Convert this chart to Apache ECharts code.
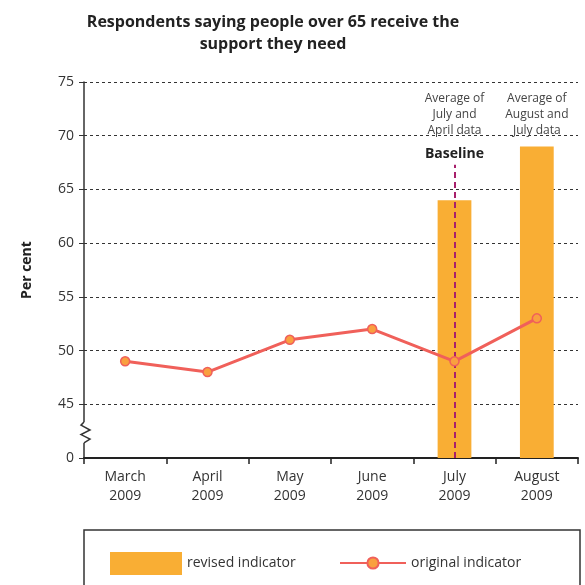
<!DOCTYPE html>
<html>
<head>
<meta charset="utf-8">
<script src="https://cdn.jsdelivr.net/npm/echarts@6/dist/echarts.min.js"></script>
<style>
  html, body { margin: 0; padding: 0; background: #fff; }
  #chart { width: 585px; height: 585px; }
</style>
</head>
<body>
<div id="chart"></div>
<script>
// Months surveyed
const categories = ['March\n2009', 'April\n2009', 'May\n2009', 'June\n2009', 'July\n2009', 'August\n2009'];
// Revised indicator (averaged figures), per cent
const revisedValues = [null, null, null, null, 64, 69];
// Original indicator, per cent
const originalValues = [49, 48, 51, 52, 49, 53];
// Axis runs 40..75 with the 40 position shown as 0 (broken axis)
const yMin = 40, yMax = 75, yStep = 5;
const annotations = [
  { cat: 4, text: 'Average of\nJuly and\nApril data' },
  { cat: 5, text: 'Average of\nAugust and\nJuly data' }
];

const FONT = '"Open Sans", "Noto Sans", sans-serif';
const chart = echarts.init(document.getElementById('chart'));

const option = {
  animation: false,
  textStyle: { fontFamily: FONT },
  title: {
    text: 'Respondents saying people over 65 receive the\nsupport they need',
    left: 268, top: 6, textAlign: 'center',
    textStyle: { fontSize: 16, fontWeight: 'bold', color: '#222', lineHeight: 22, fontFamily: FONT }
  },
  grid: { left: 84, right: 7, top: 82, bottom: 127 },
  legend: [
    {
      data: [{ name: 'revised indicator', icon: 'rect' }], left: 105, top: 547, itemWidth: 72, itemHeight: 23,
      textStyle: { fontSize: 14, color: '#333', fontFamily: FONT }, itemGap: 10
    },
    {
      data: ['original indicator'], left: 334, top: 551, itemWidth: 66, itemHeight: 14,
      textStyle: { fontSize: 14, color: '#333', fontFamily: FONT }
    }
  ],
  xAxis: {
    type: 'category', data: categories, boundaryGap: true,
    axisLine: { lineStyle: { color: '#222', width: 2 } },
    axisTick: { show: true, length: 6, lineStyle: { color: '#222', width: 1.5 } },
    axisLabel: { fontSize: 14, color: '#333', lineHeight: 19, margin: 10, fontFamily: FONT }
  },
  yAxis: {
    type: 'value', min: yMin, max: yMax, interval: yStep,
    name: 'Per cent', nameLocation: 'middle', nameGap: 50, nameRotate: 90,
    nameTextStyle: { fontSize: 14, fontWeight: 'bold', color: '#222', fontFamily: FONT },
    axisLine: { show: true, lineStyle: { color: '#333', width: 1.5 } },
    axisTick: { show: true, length: 5, lineStyle: { color: '#333' } },
    axisLabel: {
      fontSize: 14, color: '#333', margin: 10, fontFamily: FONT,
      formatter: v => (v === yMin ? '0' : String(v))
    },
    splitLine: {
      show: true,
      lineStyle: { color: '#333', type: [3, 3], width: 1 }
    }
  },
  series: [
    {
      name: 'revised indicator', type: 'bar', data: revisedValues,
      barWidth: '41%', itemStyle: { color: '#f9ae34' }, clip: true,
      markLine: {
        symbol: 'none', silent: true,
        label: {
          show: true, position: 'end', formatter: 'Baseline',
          fontSize: 14, fontWeight: 'bold', color: '#222', distance: 4, fontFamily: FONT
        },
        lineStyle: { color: '#a8206b', type: [6, 4], width: 2 },
        data: [[{ coord: [4, yMin] }, { coord: [4, 67.3] }]]
      }
    },
    {
      name: 'original indicator', type: 'line', data: originalValues,
      symbol: 'circle', symbolSize: 9, z: 5,
      lineStyle: { color: '#f0605a', width: 3 },
      itemStyle: { color: '#f9a03f', borderColor: '#f0605a', borderWidth: 1.5 }
    }
  ]
};
chart.setOption(option);

// Annotation texts, break mark and legend frame positioned via the axes
function drawExtras() {
  const els = [];
  annotations.forEach(a => {
    const p = chart.convertToPixel({ gridIndex: 0 }, [a.cat, 74.2]);
    els.push({
      type: 'text', x: p[0], y: p[1],
      style: {
        text: a.text, align: 'center', verticalAlign: 'top',
        fontSize: 12, lineHeight: 16, fill: '#444', fontFamily: FONT
      }
    });
  });
  const x0 = 84;
  const yTop = chart.convertToPixel({ yAxisIndex: 0 }, 43.35);
  const yBot = chart.convertToPixel({ yAxisIndex: 0 }, 41.4);
  els.push({ type: 'rect', shape: { x: 78, y: yTop, width: 14, height: yBot - yTop }, style: { fill: '#fff' }, z: 100 });
  const h = yBot - yTop;
  els.push({
    type: 'polyline', z: 101,
    shape: { points: [[x0, yTop], [x0 - 3, yTop + h * 0.15], [x0 + 6, yTop + h * 0.38], [x0 - 3, yTop + h * 0.6], [x0 + 6, yTop + h * 0.82], [x0, yBot]] },
    style: { stroke: '#333', lineWidth: 1.5, fill: null }
  });
  els.push({
    type: 'rect', z: 0,
    shape: { x: 84, y: 530, width: 496, height: 80 },
    style: { fill: 'none', stroke: '#333', lineWidth: 1.5 }
  });
  chart.setOption({ graphic: els });
}
drawExtras();
</script>
</body>
</html>
